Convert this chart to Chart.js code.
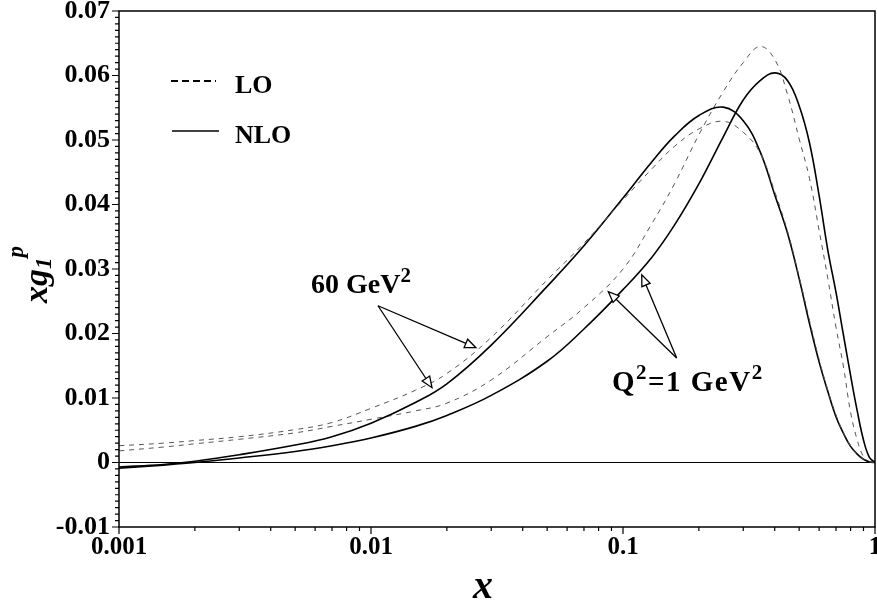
<!DOCTYPE html>
<html>
<head>
<meta charset="utf-8">
<title>xg1p LO / NLO</title>
<script src="https://cdn.jsdelivr.net/npm/chart.js@4/dist/chart.umd.min.js"></script>
<style>
  html, body { margin: 0; padding: 0; background: #fff; }
  #wrap { width: 877px; height: 609px; position: relative; }
</style>
</head>
<body>
<div id="wrap"><canvas id="xgChart"></canvas></div>
<script>
"use strict";

// values
const xVals = [0.001, 0.0015, 0.002, 0.003, 0.005, 0.007, 0.01, 0.015, 0.02, 0.03,
               0.05, 0.07, 0.1, 0.13, 0.16, 0.2, 0.25, 0.3, 0.35, 0.4,
               0.45, 0.5, 0.55, 0.6, 0.65, 0.7, 0.75, 0.8, 0.85, 0.9, 0.95, 1];

const lo60  = [0.0026, 0.0030, 0.0034, 0.0040, 0.0051, 0.0062, 0.0084, 0.0112, 0.0138, 0.0194,
               0.0283, 0.0340, 0.0407, 0.0455, 0.0490, 0.0517, 0.0529, 0.0512, 0.0480, 0.0420,
               0.0358, 0.0288, 0.0220, 0.0160, 0.0112, 0.0074, 0.0046, 0.0026, 0.0013, 0.0005, 0.0001, 0];
const nlo60 = [-0.0007, -0.0003, 0.0002, 0.0012, 0.0027, 0.0040, 0.0061, 0.0093, 0.0122, 0.0182,
               0.0273, 0.0336, 0.0410, 0.0466, 0.0506, 0.0538, 0.0551, 0.0530, 0.0482, 0.0415,
               0.0355, 0.0285, 0.0215, 0.0156, 0.0110, 0.0071, 0.0045, 0.0025, 0.0013, 0.0005, 0.0001, 0];
const lo1   = [0.0018, 0.0024, 0.0029, 0.0036, 0.0046, 0.0056, 0.0067, 0.0080, 0.0092, 0.0128,
               0.0195, 0.0240, 0.0300, 0.0370, 0.0432, 0.0508, 0.0575, 0.0620, 0.0645, 0.0625,
               0.0570, 0.0502, 0.0440, 0.0360, 0.0285, 0.0210, 0.0148, 0.0078, 0.0035, 0.0009, 0.0001, 0];
const nlo1  = [-0.0009, -0.0004, 0.0000, 0.0007, 0.0017, 0.0026, 0.0038, 0.0056, 0.0073, 0.0104,
               0.0157, 0.0207, 0.0268, 0.0318, 0.0368, 0.0432, 0.0505, 0.0562, 0.0592, 0.0604,
               0.0592, 0.0553, 0.0495, 0.0414, 0.0329, 0.0264, 0.0197, 0.0135, 0.0080, 0.0035, 0.0008, 0];

// axis ticks
const xMajorTicks = [0.001, 0.01, 0.1, 1];
const xTickLabels = ['0.001', '0.01', '0.1', '1'];
const yTickLabels = ['-0.01', '0', '0.01', '0.02', '0.03', '0.04', '0.05', '0.06', '0.07'];

const SERIF = '"Liberation Serif", "Times New Roman", serif';

const toPoints = (ys) => xVals.map((x, i) => ({ x: x, y: ys[i] }));

// x tick list: 1..9 in every decade
let xAllTicks = [];
for (let d = 0; d < xMajorTicks.length - 1; d++) {
  for (let m = 1; m < 10; m++) xAllTicks.push(+(m * xMajorTicks[d]).toPrecision(3));
}
xAllTicks.push(1);

// y tick list: every 0.001
const yMin = parseFloat(yTickLabels[0]);
const yMax = parseFloat(yTickLabels[yTickLabels.length - 1]);
let yAllTicks = [];
for (let k = Math.round(yMin * 1000); k <= Math.round(yMax * 1000); k++) yAllTicks.push(k / 1000);

const isYMajor = (v) => Math.abs(v * 100 - Math.round(v * 100)) < 1e-6;
const isXMajor = (v) => xMajorTicks.some((m) => Math.abs(v - m) < 1e-9);

const solid = { borderColor: '#000', borderWidth: 1.6, pointRadius: 0, fill: false, tension: 0.4 };
const dashed = { borderColor: '#555', borderWidth: 1, borderDash: [5, 5], pointRadius: 0, fill: false,
                 tension: 0.4 };

// draw rich text pieces one after another: [text, size, style, dy]
function drawPieces(c, pieces, x, y) {
  let cx = x;
  pieces.forEach(function (p) {
    c.font = (p[2] || '') + ' bold ' + p[1] + 'px ' + SERIF;
    c.fillText(p[0], cx, y + (p[3] || 0));
    cx += c.measureText(p[0]).width;
  });
}

function arrow(c, x0, y0, x1, y1) {
  const ang = Math.atan2(y1 - y0, x1 - x0);
  const len = 11, half = 4.5;
  const bx = x1 - len * Math.cos(ang), by = y1 - len * Math.sin(ang);
  c.beginPath();
  c.moveTo(x0, y0);
  c.lineTo(bx, by);
  c.stroke();
  c.beginPath();
  c.moveTo(x1, y1);
  c.lineTo(bx + half * Math.sin(ang), by - half * Math.cos(ang));
  c.lineTo(bx - half * Math.sin(ang), by + half * Math.cos(ang));
  c.closePath();
  c.fillStyle = '#fff';
  c.fill();
  c.stroke();
}

const framePlugin = {
  id: 'frame',
  beforeDatasetsDraw(chart) {
    const c = chart.ctx, a = chart.chartArea, ys = chart.scales.y;
    c.save();
    c.strokeStyle = '#000';
    c.lineWidth = 1.2;
    const y0 = ys.getPixelForValue(0);
    c.beginPath();
    c.moveTo(a.left, y0);
    c.lineTo(a.right, y0);
    c.stroke();
    c.restore();
  },
  afterDraw(chart) {
    const c = chart.ctx, a = chart.chartArea;
    const xs = chart.scales.x, ys = chart.scales.y;
    c.save();
    c.strokeStyle = '#000';
    c.lineWidth = 1.5;
    c.strokeRect(a.left, a.top, a.right - a.left, a.bottom - a.top);

    // tick marks
    c.lineWidth = 1.2;
    c.beginPath();
    yAllTicks.forEach(function (v) {
      const p = ys.getPixelForValue(v);
      const l = isYMajor(v) ? 7 : 4;
      c.moveTo(a.left - l, p);
      c.lineTo(a.left, p);
    });
    xAllTicks.forEach(function (v) {
      const p = xs.getPixelForValue(v);
      const l = isXMajor(v) ? 7 : 4;
      c.moveTo(p, a.bottom);
      c.lineTo(p, a.bottom + l);
    });
    c.stroke();

    // legend
    c.fillStyle = '#000';
    c.textBaseline = 'alphabetic';
    c.lineWidth = 2.2;
    c.setLineDash([7, 4]);
    c.beginPath();
    c.moveTo(a.left + 52, a.top + 70);
    c.lineTo(a.left + 97, a.top + 70);
    c.stroke();
    c.setLineDash([]);
    c.lineWidth = 1.6;
    c.beginPath();
    c.moveTo(a.left + 53, a.top + 120);
    c.lineTo(a.left + 100, a.top + 120);
    c.stroke();
    c.font = 'bold 26px ' + SERIF;
    c.fillText('LO', a.left + 116, a.top + 82);
    c.fillText('NLO', a.left + 116, a.top + 132);

    // annotations, anchored in data coordinates
    const px = (x) => xs.getPixelForValue(x);
    const py = (y) => ys.getPixelForValue(y);
    c.lineWidth = 1.3;
    c.strokeStyle = '#000';
    arrow(c, px(0.01066), py(0.0243), px(0.0261), py(0.0178));
    arrow(c, px(0.01066), py(0.0243), px(0.01746), py(0.0116));
    arrow(c, px(0.1633), py(0.0162), px(0.0874), py(0.0265));
    arrow(c, px(0.1633), py(0.0162), px(0.1187), py(0.0291));
    c.fillStyle = '#000';
    drawPieces(c, [['60 GeV', 28], ['2', 21, '', -11]], px(0.00578), py(0.0263));
    c.letterSpacing = '1.5px';
    drawPieces(c, [['Q', 29], ['2', 21, '', -12], ['=1 GeV', 29], ['2', 21, '', -12]], px(0.0904), py(0.0111));
    c.letterSpacing = '0px';

    // axis titles
    c.font = 'italic bold 40px ' + SERIF;
    c.textAlign = 'center';
    c.fillText('x', a.left + 364, 598);
    c.textAlign = 'left';
    c.translate(47, a.top + 292);
    c.rotate(-Math.PI / 2);
    drawPieces(c, [['xg', 34, 'italic'], ['1', 23, 'italic', 4], ['p', 23, 'italic', -24]], 0, 0);
    c.restore();
  }
};

const ctx = document.getElementById('xgChart').getContext('2d');

const xgChart = new Chart(ctx, {
  type: 'line',
  data: {
    datasets: [
      Object.assign({ label: '60 GeV\u00b2 LO', data: toPoints(lo60) }, dashed),
      Object.assign({ label: '60 GeV\u00b2 NLO', data: toPoints(nlo60) }, solid),
      Object.assign({ label: 'Q\u00b2=1 GeV\u00b2 LO', data: toPoints(lo1) }, dashed),
      Object.assign({ label: 'Q\u00b2=1 GeV\u00b2 NLO', data: toPoints(nlo1) }, solid)
    ]
  },
  options: {
    responsive: true,
    maintainAspectRatio: false,
    animation: false,
    events: [],
    layout: { padding: { top: 11, right: 2, left: 0, bottom: 0 } },
    plugins: { legend: { display: false }, tooltip: { enabled: false } },
    scales: {
      x: {
        type: 'logarithmic',
        min: xMajorTicks[0],
        max: xMajorTicks[xMajorTicks.length - 1],
        grid: { display: false, drawTicks: false },
        border: { display: false },
        afterBuildTicks: (scale) => { scale.ticks = xAllTicks.map((v) => ({ value: v })); },
        afterFit: (scale) => { scale.height = 82; scale.paddingLeft = 0; scale.paddingRight = 0; },
        ticks: {
          autoSkip: false,
          maxRotation: 0,
          padding: 6,
          color: '#000',
          font: { family: SERIF, weight: 'bold', size: 25 },
          callback: function (v) {
            const i = xMajorTicks.findIndex((m) => Math.abs(v - m) < 1e-9);
            return i >= 0 ? xTickLabels[i] : '';
          }
        }
      },
      y: {
        type: 'linear',
        min: yMin,
        max: yMax,
        grid: { display: false, drawTicks: false },
        border: { display: false },
        afterBuildTicks: (scale) => { scale.ticks = yAllTicks.map((v) => ({ value: v })); },
        afterFit: (scale) => { scale.width = 119; scale.paddingTop = 0; scale.paddingBottom = 0; },
        ticks: {
          autoSkip: false,
          padding: 9,
          color: '#000',
          font: { family: SERIF, weight: 'bold', size: 26 },
          callback: function (v) {
            if (!isYMajor(v)) return '';
            return yTickLabels[Math.round(v * 100) + 1];
          }
        }
      }
    }
  },
  plugins: [framePlugin]
});
</script>
</body>
</html>
